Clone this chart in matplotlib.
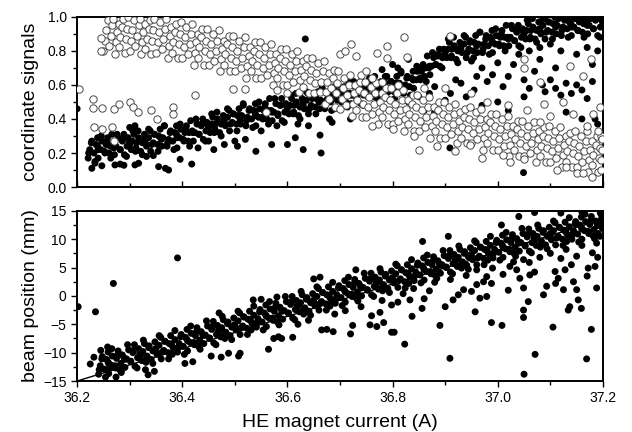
import numpy as np
import matplotlib
matplotlib.use("Agg")
import matplotlib.pyplot as plt
from matplotlib.ticker import MultipleLocator

plt.rcParams['font.family'] = ['Liberation Sans', 'DejaVu Sans']

# ---- top panel: coordinate signals (filled = one channel, open = the other)
sig_filled_band = [
    (36.221, .17), (36.224, .22), (36.228, .27), (36.232, .20), (36.236, .25), (36.239, .29),
    (36.240, .17), (36.245, .22), (36.247, .27), (36.253, .20), (36.255, .25), (36.258, .29),
    (36.261, .20), (36.263, .24), (36.266, .31), (36.271, .19), (36.274, .24), (36.278, .29),
    (36.282, .22), (36.286, .27), (36.289, .31), (36.290, .19), (36.295, .24), (36.297, .29),
    (36.303, .22), (36.305, .27), (36.308, .31), (36.311, .21), (36.313, .26), (36.316, .33),
    (36.321, .21), (36.324, .26), (36.328, .31), (36.332, .24), (36.336, .29), (36.339, .33),
    (36.340, .21), (36.345, .26), (36.347, .31), (36.353, .25), (36.355, .30), (36.358, .34),
    (36.361, .24), (36.363, .29), (36.366, .36), (36.371, .24), (36.374, .28), (36.378, .33),
    (36.382, .27), (36.386, .32), (36.389, .36), (36.390, .23), (36.395, .29), (36.397, .34),
    (36.403, .27), (36.405, .32), (36.408, .36), (36.411, .27), (36.413, .32), (36.416, .39),
    (36.421, .27), (36.424, .32), (36.428, .37), (36.432, .31), (36.436, .36), (36.439, .40),
    (36.440, .28), (36.445, .33), (36.447, .38), (36.453, .32), (36.455, .37), (36.458, .41),
    (36.461, .32), (36.463, .37), (36.466, .44), (36.471, .32), (36.474, .37), (36.478, .42),
    (36.482, .36), (36.486, .41), (36.489, .45), (36.490, .33), (36.495, .38), (36.497, .43),
    (36.503, .37), (36.505, .42), (36.508, .46), (36.511, .37), (36.513, .42), (36.516, .49),
    (36.521, .36), (36.524, .41), (36.528, .46), (36.532, .40), (36.536, .45), (36.539, .49),
    (36.540, .36), (36.545, .41), (36.547, .46), (36.553, .40), (36.555, .45), (36.558, .49),
    (36.561, .40), (36.563, .45), (36.566, .52), (36.571, .39), (36.574, .44), (36.578, .49),
    (36.582, .43), (36.586, .48), (36.589, .52), (36.590, .39), (36.595, .44), (36.597, .49),
    (36.603, .43), (36.605, .48), (36.608, .52), (36.611, .43), (36.613, .48), (36.616, .55),
    (36.621, .42), (36.624, .47), (36.628, .52), (36.632, .46), (36.636, .51), (36.639, .55),
    (36.640, .43), (36.645, .48), (36.647, .53), (36.653, .47), (36.655, .52), (36.658, .56),
    (36.661, .46), (36.663, .51), (36.666, .58), (36.671, .46), (36.674, .51), (36.678, .56),
    (36.682, .50), (36.686, .55), (36.689, .59), (36.690, .46), (36.695, .51), (36.697, .56),
    (36.703, .50), (36.705, .55), (36.708, .59), (36.711, .50), (36.713, .55), (36.716, .62),
    (36.721, .49), (36.724, .54), (36.728, .59), (36.732, .53), (36.736, .58), (36.739, .62),
    (36.740, .49), (36.745, .54), (36.747, .59), (36.753, .53), (36.755, .58), (36.758, .62),
    (36.761, .53), (36.763, .58), (36.766, .65), (36.771, .52), (36.774, .57), (36.778, .62),
    (36.782, .56), (36.786, .61), (36.789, .65), (36.790, .52), (36.795, .57), (36.797, .62),
    (36.803, .56), (36.805, .61), (36.808, .65), (36.811, .56), (36.813, .61), (36.816, .68),
    (36.821, .55), (36.824, .60), (36.828, .65), (36.832, .59), (36.836, .64), (36.839, .68),
    (36.840, .58), (36.845, .63), (36.847, .68), (36.853, .63), (36.855, .68), (36.858, .72),
    (36.861, .65), (36.863, .70), (36.866, .77), (36.871, .66), (36.874, .71), (36.878, .76),
    (36.882, .72), (36.886, .77), (36.889, .81), (36.890, .71), (36.895, .76), (36.897, .81),
    (36.903, .76), (36.905, .81), (36.908, .85), (36.911, .76), (36.913, .81), (36.916, .88),
    (36.921, .75), (36.924, .80), (36.928, .85), (36.932, .79), (36.936, .84), (36.939, .88),
    (36.940, .76), (36.945, .81), (36.947, .86), (36.953, .80), (36.955, .85), (36.958, .89),
    (36.961, .79), (36.963, .84), (36.966, .91), (36.971, .79), (36.974, .84), (36.978, .89),
    (36.982, .83), (36.986, .88), (36.989, .92), (36.990, .79), (36.995, .84), (36.997, .89),
    (37.003, .83), (37.005, .88), (37.008, .92), (37.011, .83), (37.013, .88), (37.016, .95),
    (37.021, .83), (37.024, .88), (37.028, .93), (37.032, .86), (37.036, .91), (37.039, .95),
    (37.040, .83), (37.045, .88), (37.047, .93), (37.053, .87), (37.055, .92), (37.058, .96),
    (37.061, .87), (37.063, .92), (37.066, .99), (37.071, .87), (37.074, .92), (37.078, .97),
    (37.082, .90), (37.086, .95), (37.089, .99), (37.090, .87), (37.095, .92), (37.097, .97),
    (37.103, .91), (37.105, .96), (37.108, 1.00), (37.111, .90), (37.113, .95), (37.116, .99),
    (37.121, .89), (37.124, .94), (37.128, .99), (37.132, .93), (37.136, .97), (37.139, 1.00),
    (37.140, .89), (37.145, .94), (37.147, .99), (37.153, .92), (37.155, .97), (37.158, 1.00),
    (37.161, .91), (37.163, .96), (37.166, .99), (37.171, .90), (37.174, .95), (37.178, .99),
    (37.182, .93), (37.186, .98), (37.189, 1.00), (37.190, .89), (37.195, .94), (37.198, .99),
]

sig_filled_fill = [
    (36.222, .20), (36.227, .26), (36.234, .15), (36.239, .24), (36.240, .22), (36.246, .30),
    (36.252, .21), (36.257, .27), (36.264, .17), (36.269, .25), (36.270, .23), (36.276, .31),
    (36.282, .22), (36.287, .28), (36.294, .18), (36.299, .26), (36.300, .25), (36.306, .33),
    (36.312, .23), (36.317, .29), (36.324, .19), (36.329, .28), (36.330, .26), (36.336, .34),
    (36.342, .25), (36.347, .31), (36.354, .21), (36.359, .29), (36.360, .28), (36.366, .36),
    (36.372, .26), (36.377, .32), (36.384, .22), (36.389, .31), (36.390, .29), (36.396, .37),
    (36.402, .28), (36.407, .34), (36.414, .24), (36.419, .33), (36.420, .32), (36.426, .40),
    (36.432, .31), (36.437, .37), (36.444, .27), (36.449, .36), (36.450, .35), (36.456, .43),
    (36.462, .34), (36.467, .40), (36.474, .30), (36.479, .39), (36.480, .38), (36.486, .46),
    (36.492, .37), (36.497, .43), (36.504, .33), (36.509, .42), (36.510, .40), (36.516, .48),
    (36.522, .39), (36.527, .45), (36.534, .35), (36.539, .43), (36.540, .42), (36.546, .50),
    (36.552, .41), (36.557, .47), (36.564, .37), (36.569, .45), (36.570, .44), (36.576, .52),
    (36.582, .42), (36.587, .48), (36.594, .38), (36.599, .47), (36.600, .46), (36.606, .54),
    (36.612, .44), (36.617, .50), (36.624, .40), (36.629, .49), (36.630, .48), (36.636, .56),
    (36.642, .46), (36.647, .52), (36.654, .43), (36.659, .51), (36.660, .50), (36.666, .58),
    (36.672, .48), (36.677, .54), (36.684, .45), (36.689, .53), (36.690, .52), (36.696, .60),
    (36.702, .51), (36.707, .57), (36.714, .47), (36.719, .55), (36.720, .54), (36.726, .62),
    (36.732, .52), (36.737, .58), (36.744, .48), (36.749, .57), (36.750, .56), (36.756, .64),
    (36.762, .54), (36.767, .60), (36.774, .50), (36.779, .59), (36.780, .57), (36.786, .65),
    (36.792, .56), (36.797, .62), (36.804, .52), (36.809, .61), (36.810, .59), (36.816, .67),
    (36.822, .58), (36.827, .64), (36.834, .54), (36.839, .63), (36.840, .63), (36.846, .71),
    (36.852, .64), (36.857, .70), (36.864, .62), (36.869, .70), (36.870, .71), (36.876, .79),
    (36.882, .72), (36.887, .78), (36.894, .70), (36.899, .78), (36.900, .79), (36.906, .87),
    (36.912, .77), (36.917, .83), (36.924, .73), (36.929, .82), (36.930, .81), (36.936, .89),
    (36.942, .79), (36.947, .85), (36.954, .76), (36.959, .84), (36.960, .83), (36.966, .91),
    (36.972, .81), (36.977, .87), (36.984, .78), (36.989, .86), (36.990, .85), (36.996, .93),
    (37.002, .84), (37.007, .90), (37.014, .80), (37.019, .88), (37.020, .87), (37.026, .95),
    (37.032, .86), (37.037, .92), (37.044, .82), (37.049, .91), (37.050, .90), (37.056, .98),
    (37.062, .88), (37.067, .94), (37.074, .85), (37.079, .93), (37.080, .92), (37.086, .99),
    (37.092, .91), (37.097, .97), (37.104, .87), (37.109, .96), (37.110, .94), (37.116, 1.00),
    (37.122, .92), (37.127, .98), (37.134, .88), (37.139, .96), (37.140, .94), (37.146, 1.00),
    (37.152, .92), (37.157, .98), (37.164, .88), (37.169, .97), (37.170, .95), (37.176, 1.00),
    (37.182, .93), (37.187, .99), (37.194, .88), (37.199, .97),
]

sig_filled_scatter = [
    (36.200, .46), (36.228, .11), (36.234, .14), (36.247, .125), (36.272, .13), (36.282, .135),
    (36.289, .128), (36.310, .13), (36.317, .14), (36.332, .18), (36.345, .185), (36.355, .12),
    (36.368, .11), (36.374, .10), (36.396, .163), (36.418, .135), (36.310, .36), (36.300, .35),
    (36.430, .23), (36.450, .27), (36.460, .22), (36.480, .25), (36.500, .27), (36.505, .24),
    (36.520, .28), (36.540, .21), (36.570, .25), (36.600, .25), (36.615, .29), (36.630, .22),
    (36.634, .87), (36.662, .305), (36.664, .20), (36.680, .40), (36.685, .38), (36.720, .40),
    (36.795, .36), (36.909, .23), (37.049, .085), (36.640, .36), (36.580, .36), (36.550, .33),
    (36.620, .37), (36.850, .53), (36.870, .55), (36.880, .59), (36.900, .51), (36.910, .55),
    (36.920, .63), (36.930, .61), (36.940, .53), (36.955, .57), (36.960, .65), (36.970, .70),
    (36.980, .62), (36.990, .66), (37.000, .73), (37.010, .59), (37.020, .65), (37.030, .72),
    (37.040, .78), (37.050, .63), (37.060, .58), (37.070, .68), (37.080, .75), (37.085, .60),
    (37.090, .56), (37.100, .63), (37.110, .58), (37.120, .54), (37.130, .61), (37.140, .55),
    (37.150, .60), (37.160, .57), (37.170, .52), (37.180, .62), (37.185, .40), (37.190, .37),
    (37.190, .80), (37.170, .82), (37.150, .78), (37.120, .80), (37.100, .84), (37.080, .82),
    (37.060, .80), (36.830, .50), (36.860, .45), (36.950, .74), (37.000, .50), (37.020, .45),
    (37.130, .44), (37.160, .40), (37.050, .53), (37.110, .70), (37.180, .72), (36.880, .44),
    (36.970, .48), (36.830, .75), (36.810, .70), (36.800, .72), (36.780, .69),
]

sig_open_band = [
    (36.250, .80), (36.253, .86), (36.255, .92), (36.258, .98),
    (36.261, .83), (36.264, .89), (36.267, .95), (36.269, .99),
    (36.272, .78), (36.274, .85), (36.276, .91), (36.279, .96),
    (36.280, .82), (36.282, .88), (36.286, .94), (36.288, .99),
    (36.291, .79), (36.293, .87), (36.295, .93), (36.297, 1.00),
    (36.300, .80), (36.303, .86), (36.305, .92), (36.308, .98),
    (36.311, .83), (36.314, .89), (36.317, .95), (36.319, .99),
    (36.322, .78), (36.324, .85), (36.326, .91), (36.329, .96),
    (36.330, .81), (36.332, .87), (36.336, .93), (36.338, .98),
    (36.341, .78), (36.343, .86), (36.345, .92), (36.347, .99),
    (36.350, .79), (36.353, .85), (36.355, .91), (36.358, .97),
    (36.361, .81), (36.364, .87), (36.367, .93), (36.369, .99),
    (36.372, .76), (36.374, .83), (36.376, .89), (36.379, .94),
    (36.380, .79), (36.382, .85), (36.386, .91), (36.388, .96),
    (36.391, .76), (36.393, .84), (36.395, .90), (36.397, .97),
    (36.400, .76), (36.403, .82), (36.405, .88), (36.408, .94),
    (36.411, .78), (36.414, .84), (36.417, .90), (36.419, .96),
    (36.422, .72), (36.424, .79), (36.426, .85), (36.429, .90),
    (36.430, .76), (36.432, .82), (36.436, .88), (36.438, .93),
    (36.441, .72), (36.443, .80), (36.445, .86), (36.447, .93),
    (36.450, .72), (36.453, .78), (36.455, .84), (36.458, .90),
    (36.461, .74), (36.464, .80), (36.467, .86), (36.469, .92),
    (36.472, .68), (36.474, .75), (36.476, .81), (36.479, .86),
    (36.480, .72), (36.482, .78), (36.486, .84), (36.488, .89),
    (36.491, .68), (36.493, .76), (36.495, .82), (36.497, .89),
    (36.500, .68), (36.503, .74), (36.505, .80), (36.508, .86),
    (36.511, .70), (36.514, .76), (36.517, .82), (36.519, .88),
    (36.522, .64), (36.524, .71), (36.526, .77), (36.529, .82),
    (36.530, .68), (36.532, .74), (36.536, .80), (36.538, .85),
    (36.541, .64), (36.543, .72), (36.545, .78), (36.547, .85),
    (36.550, .64), (36.553, .70), (36.555, .76), (36.558, .82),
    (36.561, .66), (36.564, .72), (36.567, .78), (36.569, .84),
    (36.572, .60), (36.574, .67), (36.576, .73), (36.579, .78),
    (36.580, .64), (36.582, .70), (36.586, .76), (36.588, .81),
    (36.591, .60), (36.593, .68), (36.595, .74), (36.597, .81),
    (36.600, .60), (36.603, .66), (36.605, .72), (36.608, .78),
    (36.611, .62), (36.614, .68), (36.617, .74), (36.619, .80),
    (36.622, .56), (36.624, .63), (36.626, .69), (36.629, .74),
    (36.630, .59), (36.632, .65), (36.636, .71), (36.638, .76),
    (36.641, .55), (36.643, .63), (36.645, .69), (36.647, .76),
    (36.650, .55), (36.653, .61), (36.655, .67), (36.658, .73),
    (36.661, .56), (36.664, .62), (36.667, .68), (36.669, .74),
    (36.672, .49), (36.674, .56), (36.676, .62), (36.679, .67),
    (36.680, .52), (36.682, .58), (36.686, .64), (36.688, .69),
    (36.691, .47), (36.693, .55), (36.695, .61), (36.697, .68),
    (36.700, .46), (36.703, .52), (36.705, .58), (36.708, .64),
    (36.711, .48), (36.714, .54), (36.717, .60), (36.719, .66),
    (36.722, .42), (36.724, .49), (36.726, .55), (36.729, .60),
    (36.730, .45), (36.732, .51), (36.736, .57), (36.738, .62),
    (36.741, .41), (36.743, .49), (36.745, .55), (36.747, .62),
    (36.750, .41), (36.753, .47), (36.755, .53), (36.758, .59),
    (36.761, .43), (36.764, .49), (36.767, .55), (36.769, .61),
    (36.772, .37), (36.774, .44), (36.776, .50), (36.779, .55),
    (36.780, .41), (36.782, .47), (36.786, .53), (36.788, .58),
    (36.791, .37), (36.793, .45), (36.795, .51), (36.797, .58),
    (36.800, .37), (36.803, .43), (36.805, .49), (36.808, .55),
    (36.811, .39), (36.814, .45), (36.817, .51), (36.819, .57),
    (36.822, .33), (36.824, .40), (36.826, .46), (36.829, .51),
    (36.830, .37), (36.832, .43), (36.836, .49), (36.838, .54),
    (36.841, .33), (36.843, .41), (36.845, .47), (36.847, .54),
    (36.850, .33), (36.853, .39), (36.855, .45), (36.858, .51),
    (36.861, .35), (36.864, .41), (36.867, .47), (36.869, .53),
    (36.872, .29), (36.874, .36), (36.876, .42), (36.879, .47),
    (36.880, .33), (36.882, .39), (36.886, .45), (36.888, .50),
    (36.891, .29), (36.893, .37), (36.895, .43), (36.897, .50),
    (36.900, .29), (36.903, .35), (36.905, .41), (36.908, .47),
    (36.911, .31), (36.914, .37), (36.917, .43), (36.919, .49),
    (36.922, .26), (36.924, .33), (36.926, .39), (36.929, .44),
    (36.930, .29), (36.932, .35), (36.936, .41), (36.938, .46),
    (36.941, .26), (36.943, .34), (36.945, .40), (36.947, .47),
    (36.950, .26), (36.953, .32), (36.955, .38), (36.958, .44),
    (36.961, .28), (36.964, .34), (36.967, .40), (36.969, .46),
    (36.972, .22), (36.974, .29), (36.976, .35), (36.979, .40),
    (36.980, .26), (36.982, .32), (36.986, .38), (36.988, .43),
    (36.991, .22), (36.993, .30), (36.995, .36), (36.997, .43),
    (37.000, .22), (37.003, .28), (37.005, .34), (37.008, .40),
    (37.011, .24), (37.014, .30), (37.017, .36), (37.019, .42),
    (37.022, .18), (37.024, .25), (37.026, .31), (37.029, .36),
    (37.030, .22), (37.032, .28), (37.036, .34), (37.038, .39),
    (37.041, .18), (37.043, .26), (37.045, .32), (37.047, .39),
    (37.050, .18), (37.053, .24), (37.055, .30), (37.058, .36),
    (37.061, .20), (37.064, .26), (37.067, .32), (37.069, .38),
    (37.072, .15), (37.074, .22), (37.076, .28), (37.079, .33),
    (37.080, .18), (37.082, .24), (37.086, .30), (37.088, .35),
    (37.091, .15), (37.093, .23), (37.095, .29), (37.097, .36),
    (37.100, .15), (37.103, .21), (37.105, .27), (37.108, .33),
    (37.111, .17), (37.114, .23), (37.117, .29), (37.119, .35),
    (37.122, .12), (37.124, .19), (37.126, .25), (37.129, .30),
    (37.130, .15), (37.132, .21), (37.136, .27), (37.138, .32),
    (37.141, .12), (37.143, .20), (37.145, .26), (37.147, .33),
    (37.150, .12), (37.153, .18), (37.155, .24), (37.158, .30),
    (37.161, .15), (37.164, .21), (37.167, .27), (37.169, .33),
    (37.172, .09), (37.174, .16), (37.176, .22), (37.179, .27),
    (37.180, .13), (37.182, .19), (37.186, .25), (37.188, .30),
    (37.191, .09), (37.193, .17), (37.195, .23), (37.197, .30),
    (37.196, .10), (37.197, .16), (37.198, .22), (37.199, .28),
]

sig_open_scatter = [
    (36.204, .574), (36.230, .515), (36.231, .462), (36.247, .462), (36.233, .35), (36.247, .34),
    (36.266, .35), (36.270, .46), (36.280, .49), (36.300, .50), (36.307, .47), (36.316, .44),
    (36.340, .45), (36.382, .47), (36.382, .43), (36.352, .40), (36.425, .54), (36.496, .574),
    (36.520, .574), (36.270, .27), (36.245, .80), (36.245, .875), (36.720, .84), (36.770, .79),
    (36.790, .83), (36.822, .88), (36.827, .765), (36.909, .887), (36.730, .77), (36.700, .78),
    (36.710, .80), (36.790, .76), (36.884, .24), (36.919, .21), (36.947, .25), (36.850, .22),
    (37.023, .15), (37.049, .165), (37.010, .19), (37.112, .10), (37.150, .08), (37.163, .08),
    (37.049, .70), (37.080, .62), (37.049, .75), (37.137, .71), (37.163, .65), (37.178, .75),
    (37.055, .45), (37.087, .49), (37.100, .42), (37.125, .50), (37.144, .43), (37.182, .43),
    (37.194, .47), (36.740, .66), (36.750, .68), (36.760, .64), (36.780, .62), (36.810, .60),
    (36.800, .34), (36.840, .30), (36.760, .36), (36.560, .44), (36.600, .55), (36.580, .57),
    (36.950, .55), (36.980, .50), (37.020, .48), (36.900, .58), (36.860, .58), (37.190, .33),
    (37.170, .36), (37.080, .38), (36.970, .17), (37.180, .06), (37.130, .12),
]

# ---- bottom panel: beam position (mm)
pos_band = [
    (36.241, -13.8), (36.244, -12.3), (36.248, -10.7), (36.252, -12.9), (36.256, -11.2), (36.259, -9.9),
    (36.260, -13.7), (36.265, -12.2), (36.267, -10.6), (36.273, -12.7), (36.275, -11.0), (36.278, -9.7),
    (36.281, -13.0), (36.283, -11.9), (36.286, -10.4), (36.291, -12.6), (36.294, -11.1), (36.298, -9.5),
    (36.302, -11.6), (36.306, -10.0), (36.309, -8.6), (36.310, -12.4), (36.315, -10.9), (36.317, -9.3),
    (36.323, -11.4), (36.325, -9.8), (36.328, -8.4), (36.331, -11.7), (36.333, -10.6), (36.336, -9.1),
    (36.341, -11.2), (36.344, -9.7), (36.348, -8.1), (36.352, -10.3), (36.356, -8.7), (36.359, -7.3),
    (36.360, -11.1), (36.365, -9.6), (36.367, -8.0), (36.373, -10.0), (36.375, -8.4), (36.378, -7.0),
    (36.381, -10.3), (36.383, -9.2), (36.386, -7.7), (36.391, -9.9), (36.394, -8.4), (36.398, -6.8),
    (36.402, -8.9), (36.406, -7.3), (36.409, -5.9), (36.410, -9.7), (36.415, -8.2), (36.417, -6.6),
    (36.423, -8.6), (36.425, -7.0), (36.428, -5.6), (36.431, -8.9), (36.433, -7.8), (36.436, -6.3),
    (36.441, -8.4), (36.444, -6.9), (36.448, -5.3), (36.452, -7.5), (36.456, -5.9), (36.459, -4.5),
    (36.460, -8.3), (36.465, -6.8), (36.467, -5.2), (36.473, -7.2), (36.475, -5.6), (36.478, -4.2),
    (36.481, -7.5), (36.483, -6.4), (36.486, -4.9), (36.491, -7.0), (36.494, -5.5), (36.498, -3.9),
    (36.502, -6.0), (36.506, -4.4), (36.509, -3.0), (36.510, -6.8), (36.515, -5.3), (36.517, -3.7),
    (36.523, -5.7), (36.525, -4.1), (36.528, -2.7), (36.531, -6.0), (36.533, -4.9), (36.536, -3.4),
    (36.541, -5.5), (36.544, -4.0), (36.548, -2.4), (36.552, -4.6), (36.556, -3.0), (36.559, -1.6),
    (36.560, -5.4), (36.565, -3.9), (36.567, -2.3), (36.573, -4.3), (36.575, -2.7), (36.578, -1.3),
    (36.581, -4.6), (36.583, -3.5), (36.586, -2.0), (36.591, -4.1), (36.594, -2.6), (36.598, -1.0),
    (36.602, -3.1), (36.606, -1.5), (36.609, -0.1), (36.610, -3.9), (36.615, -2.4), (36.617, -0.8),
    (36.623, -2.8), (36.625, -1.2), (36.628, 0.2), (36.631, -3.2), (36.633, -2.1), (36.636, -0.6),
    (36.641, -2.7), (36.644, -1.2), (36.648, 0.4), (36.652, -1.7), (36.656, -0.1), (36.659, 1.3),
    (36.660, -2.5), (36.665, -1.0), (36.667, 0.6), (36.673, -1.4), (36.675, 0.2), (36.678, 1.6),
    (36.681, -1.8), (36.683, -0.7), (36.686, 0.8), (36.691, -1.3), (36.694, 0.2), (36.698, 1.8),
    (36.702, -0.3), (36.706, 1.3), (36.709, 2.7), (36.710, -1.1), (36.715, 0.4), (36.717, 2.0),
    (36.723, -0.1), (36.725, 1.5), (36.728, 2.9), (36.731, -0.4), (36.733, 0.7), (36.736, 2.2),
    (36.741, 0.0), (36.744, 1.5), (36.748, 3.1), (36.752, 1.0), (36.756, 2.6), (36.759, 4.0),
    (36.760, 0.2), (36.765, 1.7), (36.767, 3.3), (36.773, 1.2), (36.775, 2.8), (36.778, 4.2),
    (36.781, 0.9), (36.783, 2.0), (36.786, 3.5), (36.791, 1.3), (36.794, 2.8), (36.798, 4.4),
    (36.802, 2.3), (36.806, 3.9), (36.809, 5.3), (36.810, 1.5), (36.815, 3.0), (36.817, 4.6),
    (36.823, 2.5), (36.825, 4.1), (36.828, 5.5), (36.831, 2.2), (36.833, 3.3), (36.836, 4.8),
    (36.841, 2.7), (36.844, 4.2), (36.848, 5.8), (36.852, 3.7), (36.856, 5.3), (36.859, 6.7),
    (36.860, 2.8), (36.865, 4.3), (36.867, 5.9), (36.873, 3.9), (36.875, 5.5), (36.878, 6.9),
    (36.881, 3.6), (36.883, 4.7), (36.886, 6.2), (36.891, 4.0), (36.894, 5.5), (36.898, 7.1),
    (36.902, 5.0), (36.906, 6.6), (36.909, 8.0), (36.910, 4.2), (36.915, 5.7), (36.917, 7.3),
    (36.923, 5.2), (36.925, 6.8), (36.928, 8.2), (36.931, 4.9), (36.933, 6.0), (36.936, 7.5),
    (36.941, 5.4), (36.944, 6.9), (36.948, 8.5), (36.952, 6.4), (36.956, 8.0), (36.959, 9.4),
    (36.960, 5.5), (36.965, 7.0), (36.967, 8.6), (36.973, 6.6), (36.975, 8.2), (36.978, 9.6),
    (36.981, 6.3), (36.983, 7.4), (36.986, 8.9), (36.991, 6.7), (36.994, 8.2), (36.998, 9.8),
    (37.002, 7.7), (37.006, 9.3), (37.009, 10.7), (37.010, 6.8), (37.015, 8.3), (37.017, 9.9),
    (37.023, 7.8), (37.025, 9.4), (37.028, 10.8), (37.031, 7.5), (37.033, 8.6), (37.036, 10.1),
    (37.041, 7.9), (37.044, 9.4), (37.048, 11.0), (37.052, 8.8), (37.056, 10.4), (37.059, 11.8),
    (37.060, 7.9), (37.065, 9.4), (37.067, 11.0), (37.073, 8.9), (37.075, 10.5), (37.078, 11.9),
    (37.081, 8.6), (37.083, 9.7), (37.086, 11.2), (37.091, 9.0), (37.094, 10.5), (37.098, 12.1),
    (37.102, 9.9), (37.106, 11.5), (37.109, 12.9), (37.110, 9.0), (37.115, 10.5), (37.117, 12.1),
    (37.123, 10.0), (37.125, 11.6), (37.128, 13.0), (37.131, 9.6), (37.133, 10.7), (37.136, 12.2),
    (37.141, 10.0), (37.144, 11.5), (37.148, 13.1), (37.152, 10.9), (37.156, 12.5), (37.159, 13.9),
    (37.160, 10.0), (37.165, 11.5), (37.167, 13.1), (37.173, 11.0), (37.175, 12.6), (37.178, 14.0),
    (37.181, 10.6), (37.183, 11.7), (37.186, 13.2), (37.191, 11.0), (37.194, 12.5), (37.198, 14.1),
    (37.199, 11.9), (37.197, 13.5), (37.195, 14.6),
]

pos_band_fill = [
    (36.242, -13.0), (36.247, -11.1), (36.254, -14.3), (36.259, -11.7), (36.260, -11.9), (36.266, -9.3),
    (36.272, -12.3), (36.277, -10.4), (36.284, -13.5), (36.289, -10.9), (36.290, -11.2), (36.296, -8.6),
    (36.302, -11.5), (36.307, -9.6), (36.314, -12.7), (36.319, -10.1), (36.320, -10.4), (36.326, -7.8),
    (36.332, -10.7), (36.337, -8.8), (36.344, -11.9), (36.349, -9.3), (36.350, -9.6), (36.356, -7.0),
    (36.362, -9.9), (36.367, -8.0), (36.374, -11.1), (36.379, -8.5), (36.380, -8.7), (36.386, -6.1),
    (36.392, -9.1), (36.397, -7.2), (36.404, -10.3), (36.409, -7.7), (36.410, -7.9), (36.416, -5.3),
    (36.422, -8.2), (36.427, -6.3), (36.434, -9.4), (36.439, -6.8), (36.440, -7.0), (36.446, -4.4),
    (36.452, -7.4), (36.457, -5.5), (36.464, -8.6), (36.469, -6.0), (36.470, -6.2), (36.476, -3.6),
    (36.482, -6.5), (36.487, -4.6), (36.494, -7.7), (36.499, -5.1), (36.500, -5.3), (36.506, -2.7),
    (36.512, -5.6), (36.517, -3.7), (36.524, -6.8), (36.529, -4.2), (36.530, -4.4), (36.536, -1.8),
    (36.542, -4.7), (36.547, -2.8), (36.554, -6.0), (36.559, -3.4), (36.560, -3.6), (36.566, -1.0),
    (36.572, -3.9), (36.577, -2.0), (36.584, -5.1), (36.589, -2.5), (36.590, -2.7), (36.596, -0.1),
    (36.602, -3.0), (36.607, -1.1), (36.614, -4.2), (36.619, -1.6), (36.620, -1.8), (36.626, 0.8),
    (36.632, -2.2), (36.637, -0.3), (36.644, -3.4), (36.649, -0.8), (36.650, -1.0), (36.656, 1.6),
    (36.662, -1.3), (36.667, 0.6), (36.674, -2.5), (36.679, 0.1), (36.680, -0.2), (36.686, 2.4),
    (36.692, -0.5), (36.697, 1.4), (36.704, -1.7), (36.709, 0.9), (36.710, 0.7), (36.716, 3.3),
    (36.722, 0.3), (36.727, 2.2), (36.734, -0.9), (36.739, 1.7), (36.740, 1.4), (36.746, 4.0),
    (36.752, 1.1), (36.757, 3.0), (36.764, -0.1), (36.769, 2.5), (36.770, 2.2), (36.776, 4.8),
    (36.782, 1.9), (36.787, 3.8), (36.794, 0.6), (36.799, 3.2), (36.800, 3.0), (36.806, 5.6),
    (36.812, 2.7), (36.817, 4.6), (36.824, 1.4), (36.829, 4.0), (36.830, 3.8), (36.836, 6.4),
    (36.842, 3.5), (36.847, 5.4), (36.854, 2.3), (36.859, 4.9), (36.860, 4.6), (36.866, 7.2),
    (36.872, 4.3), (36.877, 6.2), (36.884, 3.1), (36.889, 5.7), (36.890, 5.4), (36.896, 8.0),
    (36.902, 5.1), (36.907, 7.0), (36.914, 3.9), (36.919, 6.5), (36.920, 6.2), (36.926, 8.8),
    (36.932, 5.9), (36.937, 7.8), (36.944, 4.7), (36.949, 7.3), (36.950, 7.1), (36.956, 9.7),
    (36.962, 6.7), (36.967, 8.6), (36.974, 5.5), (36.979, 8.1), (36.980, 7.9), (36.986, 10.5),
    (36.992, 7.5), (36.997, 9.4), (37.004, 6.3), (37.009, 8.9), (37.010, 8.6), (37.016, 11.2),
    (37.022, 8.2), (37.027, 10.1), (37.034, 7.0), (37.039, 9.6), (37.040, 9.3), (37.046, 11.9),
    (37.052, 8.9), (37.057, 10.8), (37.064, 7.6), (37.069, 10.2), (37.070, 9.9), (37.076, 12.5),
    (37.082, 9.6), (37.087, 11.5), (37.094, 8.3), (37.099, 10.9), (37.100, 10.6), (37.106, 13.2),
    (37.112, 10.2), (37.117, 12.1), (37.124, 8.9), (37.129, 11.5), (37.130, 11.2), (37.136, 13.8),
    (37.142, 10.8), (37.147, 12.7), (37.154, 9.5), (37.159, 12.1), (37.160, 11.8), (37.166, 14.4),
    (37.172, 11.4), (37.177, 13.3), (37.184, 10.1), (37.189, 12.7), (37.190, 12.4), (37.196, 14.8),
]

pos_scatter = [
    (36.202, -1.9), (36.235, -2.8), (36.269, 2.2), (36.391, 6.7), (36.274, -14.3),
    (36.225, -12.0), (36.232, -10.8), (36.245, -9.6), (36.258, -9.0), (36.262, -12.8), (36.285, -13.0),
    (36.330, -13.0), (36.347, -13.3), (36.335, -13.9), (36.405, -11.9), (36.420, -11.6),
    (36.455, -10.6), (36.474, -10.8), (36.488, -10.1), (36.507, -10.6), (36.510, -10.1),
    (36.535, -0.7), (36.564, -9.4), (36.574, -7.5), (36.583, -7.2), (36.589, -7.5), (36.610, -7.3),
    (36.580, -0.2), (36.662, 3.3), (36.665, -6.0), (36.675, -5.9), (36.687, -6.3), (36.720, -6.7),
    (36.724, -5.2), (36.757, -5.1), (36.770, -5.4), (36.783, -4.7), (36.798, -6.4), (36.803, -6.4),
    (36.760, -3.5), (36.776, -2.9), (36.798, -1.6), (36.810, -1.1), (36.823, -8.5), (36.837, -3.6),
    (36.856, -2.2), (36.833, -0.7), (36.890, -5.2), (36.909, -11.0), (36.900, -1.9), (36.915, -0.7),
    (36.925, 0.2), (36.935, 1.1), (36.957, -2.8), (36.966, -0.4), (36.979, -0.1), (36.988, -4.7),
    (37.008, -5.2), (36.973, 2.5), (36.988, 2.2), (36.960, 4.6), (36.979, 3.4), (37.023, 5.2),
    (37.036, 4.6), (37.049, 6.4), (37.042, 3.1), (37.061, 3.7), (37.049, 1.4), (37.058, -1.0),
    (37.049, -2.5), (37.049, -3.8), (37.050, -13.8), (37.071, -10.3), (37.087, 0.2), (37.093, 1.7),
    (37.109, 4.3), (37.115, 3.1), (37.128, 4.6), (37.125, 1.1), (37.144, 2.5), (37.150, 1.1),
    (37.105, -5.5), (37.134, -2.5), (37.137, -1.9), (37.153, -0.7), (37.159, -2.2), (37.169, -11.1),
    (37.178, -5.9), (37.172, 4.9), (37.185, 5.2), (37.188, 1.4), (37.188, 9.3), (37.194, 10.5),
    (36.620, -5.0), (36.640, -4.3), (36.690, -3.2), (36.710, -2.6), (36.740, -1.9), (36.780, -0.8),
    (36.820, 0.4), (36.840, 1.3), (36.870, 0.9), (36.880, 2.4), (36.910, 2.9), (36.940, 3.6),
    (36.960, 2.0), (36.990, 4.9), (37.010, 3.8), (37.030, 6.0), (37.060, 5.9), (37.080, 6.8),
    (37.100, 7.5), (37.120, 6.6), (37.130, 8.2), (37.150, 7.0), (37.160, 8.9), (37.180, 7.6),
    (37.190, 6.8), (37.140, 5.5), (37.070, 4.2), (37.110, 2.2), (37.170, 3.5), (37.020, 1.0),
    (36.950, 0.8), (36.860, -0.5), (36.857, 9.6), (36.730, 4.6), (36.906, 10.5), (37.007, 12.5),
    (37.040, 14.0), (37.070, 14.7), (37.120, 14.6), (37.160, 14.8), (36.650, 3.0), (36.550, -0.6),
    (36.470, -3.0),
]

# linear calibration line
fit_x = [36.2, 37.2]
fit_y = [-15.0, 13.5]


def xy(pts):
    a = np.array(pts)
    return a[:, 0], a[:, 1]


fig = plt.figure(figsize=(6.32, 4.32), dpi=100)
ax1 = fig.add_axes([0.122, 0.567, 0.832, 0.394])
ax2 = fig.add_axes([0.122, 0.118, 0.832, 0.394])

fs, os_ = 25, 28
for pts in (sig_filled_band, sig_filled_fill, sig_filled_scatter):
    x, y = xy(pts)
    ax1.scatter(x, y, s=fs, c='black', edgecolors='none', zorder=2)
for pts in (sig_open_band, sig_open_scatter):
    x, y = xy(pts)
    ax1.scatter(x, y, s=os_, facecolors='white', edgecolors='#4a4a4a',
                linewidths=0.7, zorder=3)

ax2.plot(fit_x, fit_y, color='black', lw=1.0, zorder=1)
for pts in (pos_band, pos_band_fill, pos_scatter):
    x, y = xy(pts)
    ax2.scatter(x, y, s=fs, c='black', edgecolors='none', zorder=2)

for ax in (ax1, ax2):
    ax.set_xlim(36.2, 37.2)
    ax.xaxis.set_major_locator(MultipleLocator(0.2))
    ax.xaxis.set_minor_locator(MultipleLocator(0.1))
    for s in ax.spines.values():
        s.set_linewidth(1.4)
    ax.tick_params(axis='y', which='both', direction='out', labelsize=10, width=1.0)
    ax.tick_params(which='major', length=4)
    ax.tick_params(which='minor', length=3)

ax1.set_ylim(0, 1.0)
ax1.yaxis.set_major_locator(MultipleLocator(0.2))
ax1.yaxis.set_minor_locator(MultipleLocator(0.1))
ax1.yaxis.set_major_formatter(plt.FormatStrFormatter('%.1f'))
ax1.tick_params(axis='x', which='both', direction='in', labelbottom=False, width=1.0)
ax1.set_ylabel('coordinate signals', fontsize=14)

ax2.set_ylim(-15, 15)
ax2.yaxis.set_major_locator(MultipleLocator(5))
ax2.yaxis.set_minor_locator(MultipleLocator(2.5))
ax2.tick_params(axis='x', which='both', direction='out', labelsize=10, width=1.0)
ax2.xaxis.set_major_formatter(plt.FormatStrFormatter('%.1f'))
ax2.set_ylabel('beam position (mm)', fontsize=14)
ax2.set_xlabel('HE magnet current (A)', fontsize=14, labelpad=6)

ax1.yaxis.set_label_coords(-0.072, 0.5)
ax2.yaxis.set_label_coords(-0.072, 0.5)

fig.savefig('out.png', dpi=100)
